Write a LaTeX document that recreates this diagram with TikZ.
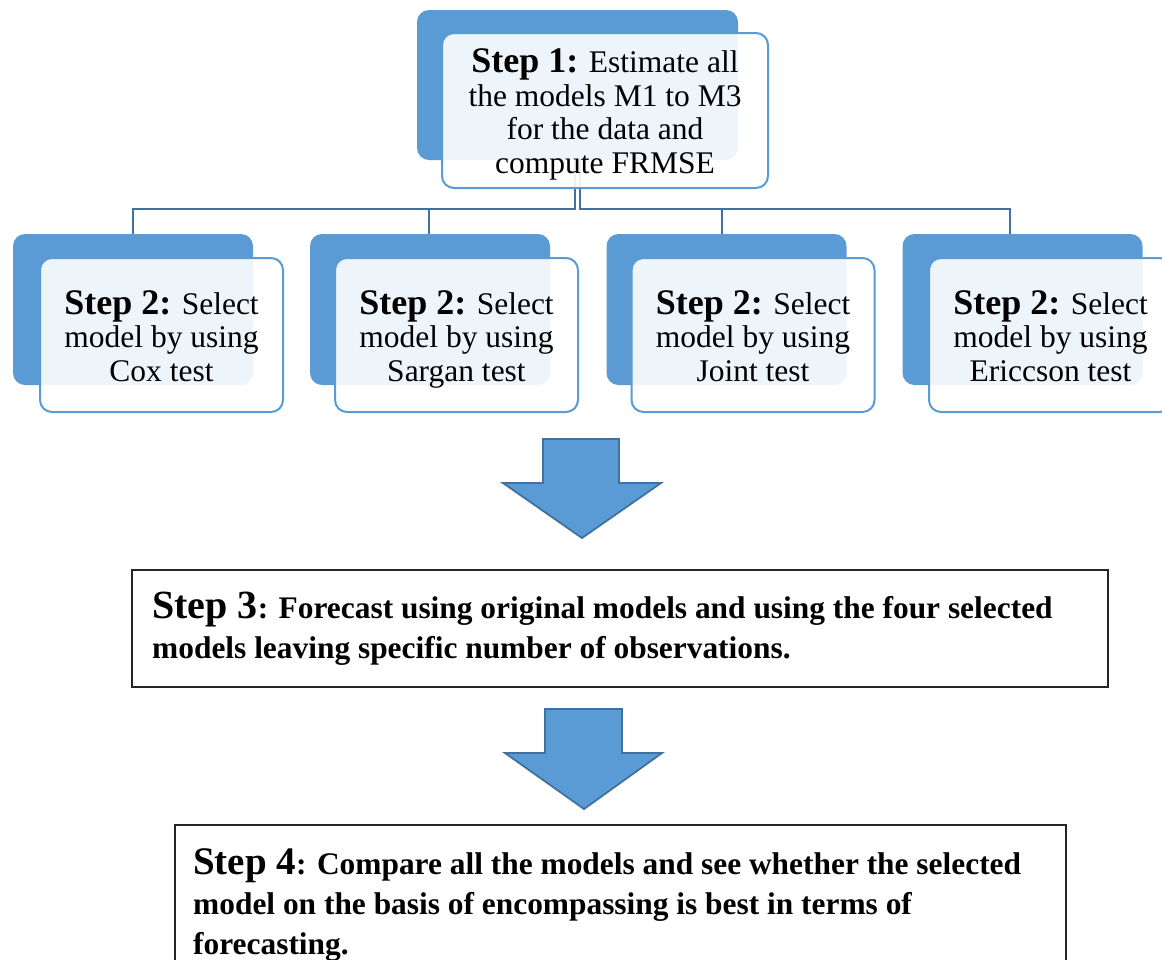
\documentclass[tikz,border=0pt]{standalone}
\usepackage{fontspec}
\setmainfont{Liberation Serif}
\definecolor{accent}{HTML}{5B9BD5}
\definecolor{edge}{HTML}{41719C}
\begin{document}
\begin{tikzpicture}[x=1pt,y=-1pt,
  back/.style={rectangle, rounded corners=12pt, fill=accent, draw=none, inner sep=0pt},
  front/.style={rectangle, rounded corners=12pt, fill=white, fill opacity=0.9, text opacity=1,
    draw=accent, line width=2pt, inner sep=0pt, align=center,
    font=\fontsize{31.5}{33.5}\selectfont},
  link/.style={draw=edge, line width=2pt},
  plain/.style={rectangle, draw=black!85, line width=1.2pt, inner sep=0pt},
  steptext/.style={anchor=north west, inner sep=0pt, align=left,
    font=\bfseries\fontsize{31.4}{40}\selectfont},
  blockarrow/.style={fill=accent, draw=edge, line width=1.8pt, line join=miter}]
\useasboundingbox (0,0) rectangle (1162,959);
\fill[white] (0,0) rectangle (1162,959);

% back (dark) boxes
\node[back, minimum width=321pt, minimum height=150pt] (t) at (577.5,85) {};
\node[back, minimum width=240pt, minimum height=151pt] (c1) at (133,309.5) {};
\node[back, minimum width=240pt, minimum height=151pt] (c2) at (430,309.5) {};
\node[back, minimum width=240pt, minimum height=151pt] (c3) at (726.5,309.5) {};
\node[back, minimum width=240pt, minimum height=151pt] (c4) at (1022.5,309.5) {};

% connectors
\draw[link] ([xshift=-3pt]t.south) -- ++(0,49) -| (c1.north);
\draw[link] ([xshift=-3pt]t.south) -- ++(0,49) -| ([xshift=-1pt]c2.north);
\draw[link] ([xshift=2pt]t.south) -- ++(0,49) -| ([xshift=-4.5pt]c3.north);
\draw[link] ([xshift=2pt]t.south) -- ++(0,49) -| ([xshift=-12.5pt]c4.north);

% front boxes
\node[front, minimum width=326pt, minimum height=155pt] (tf) at (605,110.5) {};
\node[front, draw=none, fill=none] (tft) at (605,114.5)
  {{\bfseries\fontsize{36}{33.5}\selectfont Step 1:} Estimate all\\the models M1 to M3\\for the data and\\compute FRMSE};
\node[front, minimum width=243pt, minimum height=154pt] (f1) at (161.5,335) {};
\node[front, minimum width=243pt, minimum height=154pt] (f2) at (456.5,335) {};
\node[front, minimum width=243pt, minimum height=154pt] (f3) at (753,335) {};
\node[front, minimum width=243pt, minimum height=154pt] (f4) at (1050.5,335) {};
\node[front, draw=none, fill=none] (t1) at (161.5,339)
  {{\bfseries\fontsize{36}{33.5}\selectfont Step 2:} Select\\model by using\\Cox test\vphantom{g}};
\node[front, draw=none, fill=none] (t2) at (456.5,339)
  {{\bfseries\fontsize{36}{33.5}\selectfont Step 2:} Select\\model by using\\Sargan test\vphantom{g}};
\node[front, draw=none, fill=none] (t3) at (753,339)
  {{\bfseries\fontsize{36}{33.5}\selectfont Step 2:} Select\\model by using\\Joint test\vphantom{g}};
\node[front, draw=none, fill=none] (t4) at (1050.5,339)
  {{\bfseries\fontsize{36}{33.5}\selectfont Step 2:} Select\\model by using\\Ericcson test\vphantom{g}};

% block arrows
\draw[blockarrow] (543,439) -- (619,439) -- (619,483) -- (661,483) -- (582,538)
  -- (503,483) -- (543,483) -- cycle;
\draw[blockarrow] (545,709) -- (622,709) -- (622,753) -- (662,753) -- (584,809)
  -- (505,753) -- (545,753) -- cycle;

% step 3
\node[plain, minimum width=976pt, minimum height=117pt] (s3) at (620,628.5) {};
\node[steptext] (s3t) at (152,592)
  {{\fontsize{40}{40}\selectfont Step 3}: Forecast using original models and using the four selected\\
   models leaving specific number of observations.};

% step 4
\node[plain, minimum width=891pt, minimum height=150pt] (s4) at (620.5,900) {};
\node[steptext] (s4t) at (193,848)
  {{\fontsize{39}{40}\selectfont Step 4}: Compare all the models and see whether the selected\\
   model on the basis of encompassing is best in terms of\\
   forecasting.};
\end{tikzpicture}
\end{document}
